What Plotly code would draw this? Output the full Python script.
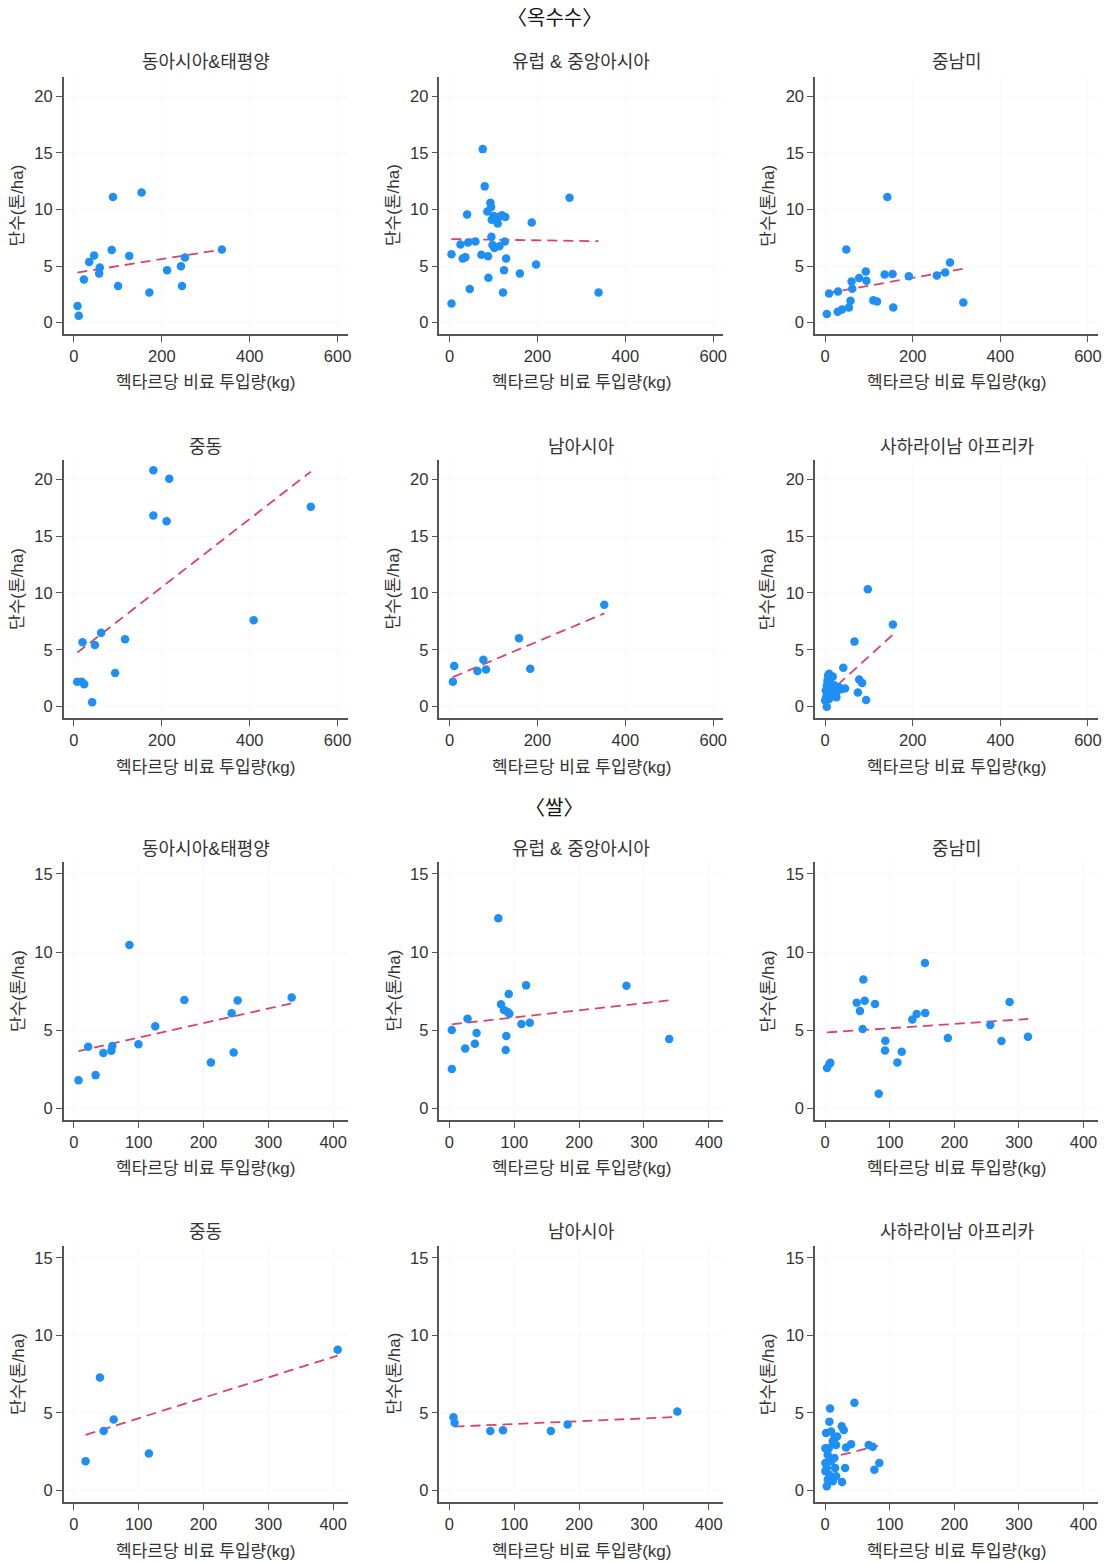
import plotly.graph_objects as go

W, H = 1113, 1562

region_names = ["동아시아&태평양", "유럽 & 중앙아시아", "중남미", "중동", "남아시아", "사하라이남 아프리카"]
section_titles = ["〈옥수수〉", "〈쌀〉"]
x_title = "헥타르당 비료 투입량(kg)"
y_title = "단수(톤/ha)"
corn_x_ticks = [0, 200, 400, 600]
corn_y_ticks = [0, 5, 10, 15, 20]
rice_x_ticks = [0, 100, 200, 300, 400]
rice_y_ticks = [0, 5, 10, 15]

# ---------------- Corn (옥수수) ----------------
corn_eap_x = [8.3, 11, 22.7, 34.8, 46, 59, 57.5, 86, 89, 100.6, 126, 154, 171.7, 212, 243.6, 246, 252.7, 336.7]
corn_eap_y = [1.47, 0.62, 3.82, 5.37, 5.93, 4.87, 4.35, 6.43, 11.1, 3.23, 5.9, 11.5, 2.67, 4.64, 4.99, 3.23, 5.76, 6.46]
corn_eap_fit_x = [8, 337]
corn_eap_fit_y = [4.43, 6.46]

corn_eca_x = [4.5, 4.5, 25, 30, 36, 40, 42.3, 46, 59, 72.5, 75.6, 80, 86, 87.6, 88.4, 93, 94.6, 95.3, 96, 97.7,
              100.5, 102, 108, 109.7, 113.4, 115.7, 119.4, 121.7, 124, 125.7, 127, 128.7, 160, 187, 197, 273, 339]
corn_eca_y = [1.70, 6.05, 6.9, 5.67, 5.79, 9.55, 7.08, 2.97, 7.17, 5.99, 15.33, 12.04, 9.81, 5.87, 3.96, 10.6, 10.22, 7.58, 9.1, 6.87,
              9.43, 6.6, 9.28, 8.75, 6.75, 9.4, 9.49, 2.67, 4.64, 7.17, 9.34, 5.67, 4.35, 8.84, 5.14, 11.04, 2.67]
corn_eca_fit_x = [4, 339]
corn_eca_fit_y = [7.38, 7.2]

corn_lac_x = [3.8, 9, 29.4, 28.7, 38.5, 48.3, 54.3, 58, 60.4, 61.9, 77.7, 92.8, 94.3, 110, 118.5, 135.8, 141.9, 154, 155.5, 191, 255, 274, 285, 315.5]
corn_lac_y = [0.76, 2.58, 2.76, 0.97, 1.17, 6.46, 1.35, 1.94, 3.64, 3.0, 3.94, 4.52, 3.7, 1.97, 1.88, 4.26, 11.1, 4.29, 1.35, 4.11, 4.17, 4.43, 5.32, 1.79]
corn_lac_fit_x = [3.8, 315.5]
corn_lac_fit_y = [2.6, 4.76]

corn_me_x = [7.6, 18, 19.7, 23.5, 41.6, 47.7, 62, 93.8, 116.5, 180.8, 180.8, 211, 217, 409, 539]
corn_me_y = [2.18, 2.18, 5.66, 1.98, 0.38, 5.43, 6.49, 2.95, 5.93, 20.8, 16.81, 16.31, 20.06, 7.61, 17.58]
corn_me_fit_x = [7.6, 539]
corn_me_fit_y = [4.75, 20.68]

corn_sa_x = [7.6, 10.6, 63.5, 77, 83, 158, 183.6, 352]
corn_sa_y = [2.18, 3.57, 3.13, 4.13, 3.27, 6.02, 3.33, 8.97]
corn_sa_fit_x = [7.6, 352]
corn_sa_fit_y = [2.6, 8.2]

corn_ssa_x = [3.8, 2.3, 1.5, 3.8, 5.3, 6.8, 9, 11.3, 15, 17.4, 20.4, 12.8, 9, 24, 28, 31.7, 25.7, 35.5, 45.3, 41.5,
              67, 74.7, 77.7, 84.5, 93.6, 97.4, 154.7, 5.3, 16.6, 21.9, 0, 11.3, 15]
corn_ssa_y = [0, 0.83, 1.42, 1.86, 2.3, 2.74, 2.9, 2.54, 2.0, 2.65, 1.7, 1.25, 0.68, 1.18, 1.42, 1.7, 0.83, 1.53, 1.59, 3.42,
              5.72, 1.24, 2.39, 2.09, 0.59, 10.32, 7.23, 1.12, 1.42, 1.86, 0.53, 1.7, 0.97]
corn_ssa_fit_x = [1.5, 154.7]
corn_ssa_fit_y = [0.97, 6.34]

# ---------------- Rice (쌀) ----------------
rice_eap_x = [7.2, 22.2, 33.6, 45.5, 57.9, 59.4, 85.8, 99.7, 125.6, 170.5, 211.4, 243.4, 246.5, 252.7, 336]
rice_eap_y = [1.81, 3.95, 2.13, 3.54, 3.69, 3.99, 10.45, 4.1, 5.25, 6.93, 2.94, 6.08, 3.58, 6.91, 7.1]
rice_eap_fit_x = [7.2, 336]
rice_eap_fit_y = [3.67, 6.72]

rice_eca_x = [3.6, 3.6, 24.3, 27.9, 39.2, 41.8, 75.4, 79.5, 84, 86.7, 87.7, 89.3, 91.4, 92.4, 111, 118.2, 123.9, 273, 339]
rice_eca_y = [5.01, 2.52, 3.84, 5.74, 4.14, 4.82, 12.16, 6.66, 6.29, 3.73, 4.63, 6.19, 7.32, 6.06, 5.4, 7.87, 5.48, 7.85, 4.44]
rice_eca_fit_x = [3.6, 339]
rice_eca_fit_y = [5.38, 6.91]

rice_lac_x = [3.1, 6.7, 8.2, 49, 54, 58.2, 59.3, 61.3, 77.3, 83, 92.8, 93.3, 111.9, 118.6, 135, 141.8, 154.6, 155, 190, 255.7, 273, 285.6, 314]
rice_lac_y = [2.58, 2.84, 2.92, 6.76, 6.23, 5.08, 8.24, 6.89, 6.68, 0.94, 3.71, 4.33, 2.94, 3.63, 5.68, 6.04, 9.3, 6.1, 4.5, 5.33, 4.31, 6.8, 4.59]
rice_lac_fit_x = [3.1, 314]
rice_lac_fit_y = [4.86, 5.72]

rice_me_x = [18.1, 40.3, 46, 61.5, 115.8, 407]
rice_me_y = [1.88, 7.28, 3.84, 4.57, 2.39, 9.07]
rice_me_fit_x = [18.1, 407]
rice_me_fit_y = [3.58, 8.7]

rice_sa_x = [6.2, 7.9, 63, 82.6, 156.4, 182.2, 351.5]
rice_sa_y = [4.72, 4.37, 3.84, 3.88, 3.84, 4.25, 5.1]
rice_sa_fit_x = [7.7, 351.5]
rice_sa_fit_y = [4.12, 4.74]

rice_ssa_x = [2.6, 0.5, 0.5, 1.5, 7.7, 6.7, 9.3, 11.9, 14.4, 17, 18.6, 5.7, 9.3, 14.4, 6.7, 11.9, 4.1, 15.5, 17, 4.1,
              25.8, 28.9, 31, 26.3, 32.5, 40.2, 45.4, 67.5, 73.7, 76.3, 84, 2.6, 0.5]
rice_ssa_y = [0.28, 1.24, 1.77, 3.71, 5.29, 4.44, 3.8, 3.16, 3.37, 2.94, 3.48, 2.73, 1.88, 2.09, 1.02, 0.6, 0.7, 1.45, 0.92, 2.3,
              4.14, 3.9, 1.45, 0.55, 2.77, 2.99, 5.65, 2.94, 2.82, 1.34, 1.77, 1.45, 2.73]
rice_ssa_fit_x = [0.5, 82]
rice_ssa_fit_y = [2.05, 2.88]

panels = [
    (corn_eap_x, corn_eap_y, corn_eap_fit_x, corn_eap_fit_y),
    (corn_eca_x, corn_eca_y, corn_eca_fit_x, corn_eca_fit_y),
    (corn_lac_x, corn_lac_y, corn_lac_fit_x, corn_lac_fit_y),
    (corn_me_x, corn_me_y, corn_me_fit_x, corn_me_fit_y),
    (corn_sa_x, corn_sa_y, corn_sa_fit_x, corn_sa_fit_y),
    (corn_ssa_x, corn_ssa_y, corn_ssa_fit_x, corn_ssa_fit_y),
    (rice_eap_x, rice_eap_y, rice_eap_fit_x, rice_eap_fit_y),
    (rice_eca_x, rice_eca_y, rice_eca_fit_x, rice_eca_fit_y),
    (rice_lac_x, rice_lac_y, rice_lac_fit_x, rice_lac_fit_y),
    (rice_me_x, rice_me_y, rice_me_fit_x, rice_me_fit_y),
    (rice_sa_x, rice_sa_y, rice_sa_fit_x, rice_sa_fit_y),
    (rice_ssa_x, rice_ssa_y, rice_ssa_fit_x, rice_ssa_fit_y),
]

# pixel geometry of plot areas
col_px = [(64, 349), (441, 726), (818, 1102)]
row_px = [(77, 334), (460, 718), (862, 1120), (1246, 1502)]
title_y_px = [62, 447, 849, 1232]
xtitle_y_px = [383, 767, 1168, 1551]
ytitle_x_px = [18, 395, 771]
section_y_px = [18, 808]

FONT = "Liberation Sans, Noto Sans CJK KR, sans-serif"
TXT = "#333333"
AX = "#555555"
DOT = "#1e8ff5"
FIT = "#d9416e"

fig = go.Figure()
layout = dict(width=W, height=H, margin=dict(l=0, r=0, t=0, b=0),
              paper_bgcolor="white", plot_bgcolor="white", showlegend=False,
              font=dict(family=FONT, color=TXT))
annotations = []

for i, (px, py, fx, fy) in enumerate(panels):
    k = i + 1
    r, c = divmod(i, 3)
    corn = r < 2
    x0, x1 = col_px[c]
    y0, y1 = row_px[r]
    xa = "xaxis" if k == 1 else f"xaxis{k}"
    ya = "yaxis" if k == 1 else f"yaxis{k}"
    xref = "x" if k == 1 else f"x{k}"
    yref = "y" if k == 1 else f"y{k}"

    fig.add_trace(go.Scatter(x=fx, y=fy, mode="lines", xaxis=xref, yaxis=yref,
                             line=dict(color=FIT, width=1.8, dash="10px,6px"), hoverinfo="skip"))
    fig.add_trace(go.Scatter(x=px, y=py, mode="markers", xaxis=xref, yaxis=yref,
                             marker=dict(color=DOT, size=8.5, line=dict(width=0))))

    common = dict(showline=True, linecolor=AX, linewidth=1.5, ticks="outside", ticklen=6,
                  tickcolor=AX, tickwidth=1.2, showgrid=True, gridcolor="#f8f8f8", gridwidth=1,
                  zeroline=False, tickfont=dict(size=16.5, color=TXT, family=FONT))
    layout[xa] = dict(common, domain=[x0 / W, x1 / W], anchor=yref,
                      range=[-23, 623] if corn else [-15.5, 422.5],
                      tickvals=corn_x_ticks if corn else rice_x_ticks)
    layout[ya] = dict(common, domain=[1 - y1 / H, 1 - y0 / H], anchor=xref,
                      range=[-1.0, 21.7] if corn else [-0.74, 15.76],
                      tickvals=corn_y_ticks if corn else rice_y_ticks)

    annotations.append(dict(text=region_names[i % 6], xref="paper", yref="paper",
                            x=(x0 + x1) / 2 / W, y=1 - title_y_px[r] / H, xanchor="center", yanchor="middle",
                            showarrow=False, font=dict(size=18, color=TXT)))
    annotations.append(dict(text=x_title, xref="paper", yref="paper",
                            x=(x0 + x1) / 2 / W, y=1 - xtitle_y_px[r] / H, xanchor="center", yanchor="middle",
                            showarrow=False, font=dict(size=17, color=TXT)))
    annotations.append(dict(text=y_title, xref="paper", yref="paper", textangle=-90,
                            x=ytitle_x_px[c] / W, y=1 - (y0 + y1) / 2 / H, xanchor="center", yanchor="middle",
                            showarrow=False, font=dict(size=17, color=TXT)))

for s, t in enumerate(section_titles):
    annotations.append(dict(text=t, xref="paper", yref="paper", x=556 / W, y=1 - section_y_px[s] / H,
                            xanchor="center", yanchor="middle", showarrow=False,
                            font=dict(size=20, color="#111111")))

layout["annotations"] = annotations
fig.update_layout(**layout)
fig.write_html("out.html")
